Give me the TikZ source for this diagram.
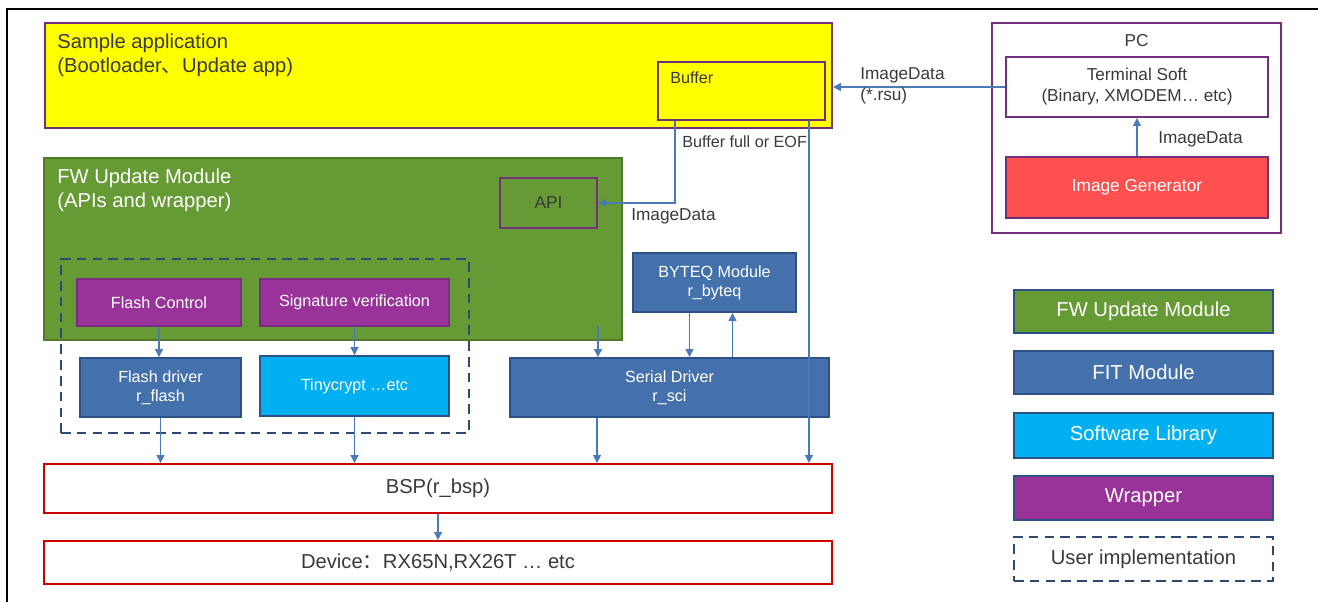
\documentclass[tikz,border=0pt]{standalone}
\usepackage{fontspec}
\setmainfont{Liberation Sans}
\newfontfamily\cjk{Noto Sans CJK SC}
\usetikzlibrary{arrows.meta,calc}

\definecolor{appyellow}{HTML}{FFFF00}
\definecolor{linepurple}{HTML}{722F7A}
\definecolor{fwugreen}{HTML}{669A34}
\definecolor{fwuborder}{HTML}{4F7A28}
\definecolor{wrapfill}{HTML}{993399}
\definecolor{wrapborder}{HTML}{7B2C82}
\definecolor{fitblue}{HTML}{4471AB}
\definecolor{fitborder}{HTML}{2E5288}
\definecolor{swcyan}{HTML}{00B0F0}
\definecolor{bspred}{HTML}{CC0000}
\definecolor{genred}{HTML}{FF5050}
\definecolor{flowblue}{HTML}{4A7BB7}
\definecolor{dashblue}{HTML}{2E4A73}
\definecolor{textgray}{HTML}{3A3A3A}

\newcommand{\bigtxt}{\fontsize{11.5}{13.6}\selectfont}
\newcommand{\midtxt}{\fontsize{9.8}{12}\selectfont}
\newcommand{\smltxt}{\fontsize{9.2}{11}\selectfont}

\begin{document}
\begin{tikzpicture}[x=0.02cm,y=-0.02cm,font=\midtxt,text=textgray,
    box/.style 2 args={draw,line width=1.1pt,minimum width=#1*0.02cm,minimum height=#2*0.02cm,inner sep=0pt,align=center},
    purplebox/.style={draw=linepurple},
    wrapbox/.style={draw=wrapborder,fill=wrapfill,text=white,font=\smltxt},
    fitbox/.style={draw=fitborder,fill=fitblue,text=white,font=\smltxt},
    libbox/.style={draw=fitborder,fill=swcyan,text=white,font=\smltxt},
    redbox/.style={draw=bspred,fill=white,font=\bigtxt},
    legbox/.style={draw=fitborder,text=white,font=\bigtxt},
    usrbox/.style={draw=dashblue,line width=1.3pt,dash pattern=on 5.5pt off 3.5pt},
    txt/.style={inner sep=0pt,align=left},
    flow/.style={draw=flowblue,line width=0.7pt,-{Triangle[width=4.5pt,length=4.5pt]}}]
  \useasboundingbox (0,0) rectangle (1318,602);
  % frame
  \draw[line width=1.5pt] (1318,9) -- (7,9) -- (7,602);

  % sample application
  \node[box={787}{105},purplebox,fill=appyellow] (app) at (438.5,75.5) {};
  \node[txt,anchor=north west,font=\bigtxt] (apptitle) at (57,34)
    {Sample application\\(Bootloader{\cjk 、}Update app)};
  \node[box={167}{58},purplebox,fill=appyellow] (buffer) at (741.5,91) {};
  \node[txt,anchor=north west,font=\smltxt] (buflbl) at (670,71) {Buffer};

  % FW update module
  \node[box={578}{182},draw=fwuborder,fill=fwugreen] (fwu) at (333,249) {};
  \node[txt,anchor=north west,font=\bigtxt,text=white] (fwutitle) at (57,169)
    {FW Update Module\\(APIs and wrapper)};
  \node[box={97}{50},purplebox] (api) at (548.5,203) {API};
  \node[box={408}{174},usrbox] (usr) at (265,346) {};
  \node[box={164}{47},wrapbox] (flashctl) at (159,302.5) {Flash Control};
  \node[box={189}{47},wrapbox] (sigver) at (354.5,302.5) {Signature verification};

  % drivers and libraries
  \node[box={161}{59},fitbox] (flashdrv) at (160.5,387.5) {Flash driver\\r\_flash};
  \node[box={189}{60},libbox] (tiny) at (354.5,386) {Tinycrypt \dots etc};
  \node[box={163}{59},fitbox] (byteq) at (714.5,282.5) {BYTEQ Module\\r\_byteq};
  \node[box={319}{59},fitbox] (serial) at (669.5,387.5) {Serial Driver\\r\_sci};

  % BSP and device
  \node[box={788}{49},redbox] (bsp) at (438,488.5) {BSP(r\_bsp)};
  \node[box={788}{43},redbox] (device) at (438,562.5) {Device{\cjk ：}RX65N,RX26T … etc};

  % PC
  \node[box={289}{210},purplebox] (pc) at (1136.5,128) {};
  \node[txt] (pclbl) at (1136.5,41) {PC};
  \node[box={262}{60},purplebox,fill=white] (term) at (1137,87) {Terminal Soft\\(Binary, XMODEM… etc)};
  \node[box={262}{61},purplebox,fill=genred,text=white] (imggen) at (1137,187.5) {Image Generator};

  % legend
  \node[box={259}{43},legbox,fill=fwugreen] (legfwu) at (1143.5,311.5) {FW Update Module};
  \node[box={259}{43},legbox,fill=fitblue] (legfit) at (1143.5,372.5) {FIT Module};
  \node[box={259}{45},legbox,fill=swcyan] (leglib) at (1143.5,435.5) {Software Library};
  \node[box={259}{44},legbox,fill=wrapfill] (legwrap) at (1143.5,498) {Wrapper};
  \node[box={259}{44},usrbox,font=\bigtxt] (legusr) at (1143.5,559) {User implementation};

  % data flow
  \draw[flow] (term.west) -- (term.west -| app.east);
  \node[txt,anchor=west] (lblrsu) at (860,86) {ImageData\\(*.rsu)};
  \draw[flow] (imggen.north) -- (term.south);
  \node[txt,anchor=west] (lblgen) at (1158,139) {ImageData};
  \coordinate (bufL) at ($(buffer.south west)+(18,0)$);
  \coordinate (bufR) at ($(buffer.south east)+(-17,0)$);
  \draw[flow] (bufL) |- (api.east);
  \node[txt,anchor=west,font=\smltxt] (lblbuf) at (682,142) {Buffer full or EOF};
  \node[txt,anchor=west] (lblapi) at (631,216) {ImageData};
  \draw[flow] (bufR) -- (bufR |- bsp.north);

  % calls
  \draw[flow] (flashctl.south) -- (flashctl.south |- flashdrv.north);
  \draw[flow] (sigver.south) -- (sigver.south |- tiny.north);
  \coordinate (fwuout) at (598,326);
  \draw[flow] (fwuout) -- (fwuout |- serial.north);
  \coordinate (byteqout) at ($(byteq.south)+(-25,0)$);
  \coordinate (byteqin) at ($(byteq.south)+(18,0)$);
  \draw[flow] (byteqout) -- (byteqout |- serial.north);
  \draw[flow] (byteqin |- serial.north) -- (byteqin);
  \draw[flow] (flashdrv.south) -- (flashdrv.south |- bsp.north);
  \draw[flow] (tiny.south) -- (tiny.south |- bsp.north);
  \coordinate (serout) at ($(serial.south west)+(88,0)$);
  \draw[flow] (serout) -- (serout |- bsp.north);
  \draw[flow] (bsp.south) -- (device.north);
\end{tikzpicture}
\end{document}
